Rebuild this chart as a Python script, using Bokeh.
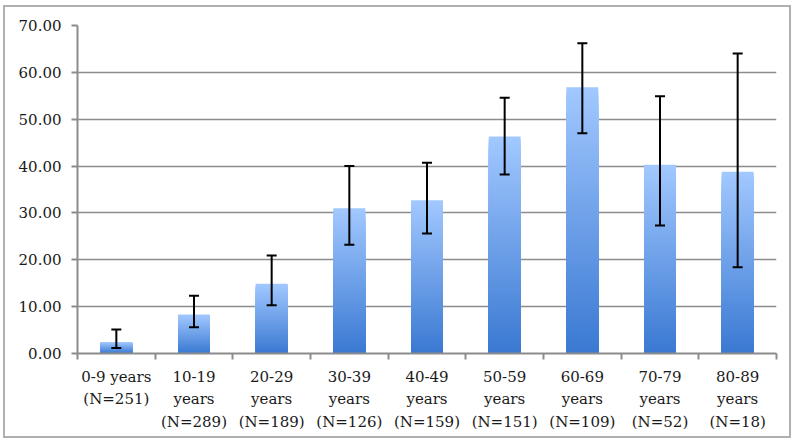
from bokeh.plotting import figure
from bokeh.models import FixedTicker, ColumnDataSource, Whisker, NumeralTickFormatter
from bokeh.embed import file_html
from bokeh.resources import INLINE

categories = ["0-9 years\n(N=251)", "10-19\nyears\n(N=289)", "20-29\nyears\n(N=189)",
              "30-39\nyears\n(N=126)", "40-49\nyears\n(N=159)", "50-59\nyears\n(N=151)",
              "60-69\nyears\n(N=109)", "70-79\nyears\n(N=52)", "80-89\nyears\n(N=18)"]
values = [2.4, 8.3, 14.9, 31.0, 32.7, 46.3, 56.8, 40.3, 38.8]
err_upper = [5.1, 12.3, 20.9, 40.0, 40.7, 54.6, 66.2, 54.9, 64.0]
err_lower = [1.2, 5.6, 10.3, 23.2, 25.6, 38.2, 47.0, 27.3, 18.4]

n = len(categories)
centers = [i + 1 for i in range(n)]
bounds = [i + 0.5 for i in range(n + 1)]

p = figure(width=788, height=433, output_backend="svg", toolbar_location=None,
           x_range=(0.5, n + 0.5), y_range=(0, 70),
           min_border_left=72, min_border_right=17, min_border_top=18, min_border_bottom=87)
p.styles = {"border": "2px solid #b0b0b0",
            "margin-left": "3px", "margin-top": "5px"}

# gradient bars: overlapping bars of decreasing height, darker toward the bottom
steps = 80
top_c = (0xA2, 0xC8, 0xFF)
bot_c = (0x3A, 0x79, 0xD2)
l, r, t, col = [], [], [], []
bw = 0.41
for k in range(steps, 0, -1):
    fm = (k - 0.5) / steps
    rgb = tuple(int(round(bot_c[j] + (top_c[j] - bot_c[j]) * fm)) for j in range(3))
    for c, v in zip(centers, values):
        l.append(c - bw / 2)
        r.append(c + bw / 2)
        t.append(v * k / steps)
        col.append("#%02x%02x%02x" % rgb)
p.quad(left=l, right=r, bottom=0, top=t, fill_color=col, line_color=None)

src = ColumnDataSource(dict(x=centers, upper=err_upper, lower=err_lower))
w = Whisker(source=src, base="x", upper="upper", lower="lower",
            line_color="black", line_width=2, level="overlay")
w.upper_head.size = 10
w.lower_head.size = 10
w.upper_head.line_width = 2
w.lower_head.line_width = 2
p.add_layout(w)

p.outline_line_color = None
p.xgrid.grid_line_color = None
p.ygrid.grid_line_color = "#8c8c8c"
p.ygrid.grid_line_width = 1.5
p.ygrid.ticker = FixedTicker(ticks=list(range(0, 71, 10)))

p.yaxis.ticker = FixedTicker(ticks=list(range(0, 71, 10)))
p.yaxis.formatter = NumeralTickFormatter(format="0.00")
p.xaxis.ticker = FixedTicker(ticks=centers, minor_ticks=bounds)
p.xaxis.major_label_overrides = {c: lab for c, lab in zip(centers, categories)}

for ax in (p.xaxis, p.yaxis):
    ax.axis_line_color = "#8c8c8c"
    ax.axis_line_width = 2
    ax.major_label_text_font = "DejaVu Serif"
    ax.major_label_text_font_size = "15px"
    ax.major_label_text_color = "#1a1a1a"

p.yaxis.major_tick_line_color = "#8c8c8c"
p.yaxis.major_tick_line_width = 2
p.yaxis.major_tick_out = 6
p.yaxis.major_tick_in = 0
p.yaxis.minor_tick_line_color = None
p.yaxis.major_label_standoff = 10

p.xaxis.major_tick_line_color = None
p.xaxis.minor_tick_line_color = "#8c8c8c"
p.xaxis.minor_tick_line_width = 2
p.xaxis.minor_tick_out = 6
p.xaxis.minor_tick_in = 0
p.xaxis.major_label_standoff = 8
p.xaxis.major_label_text_line_height = 1.27

open("out.html", "w").write(file_html(p, INLINE))
